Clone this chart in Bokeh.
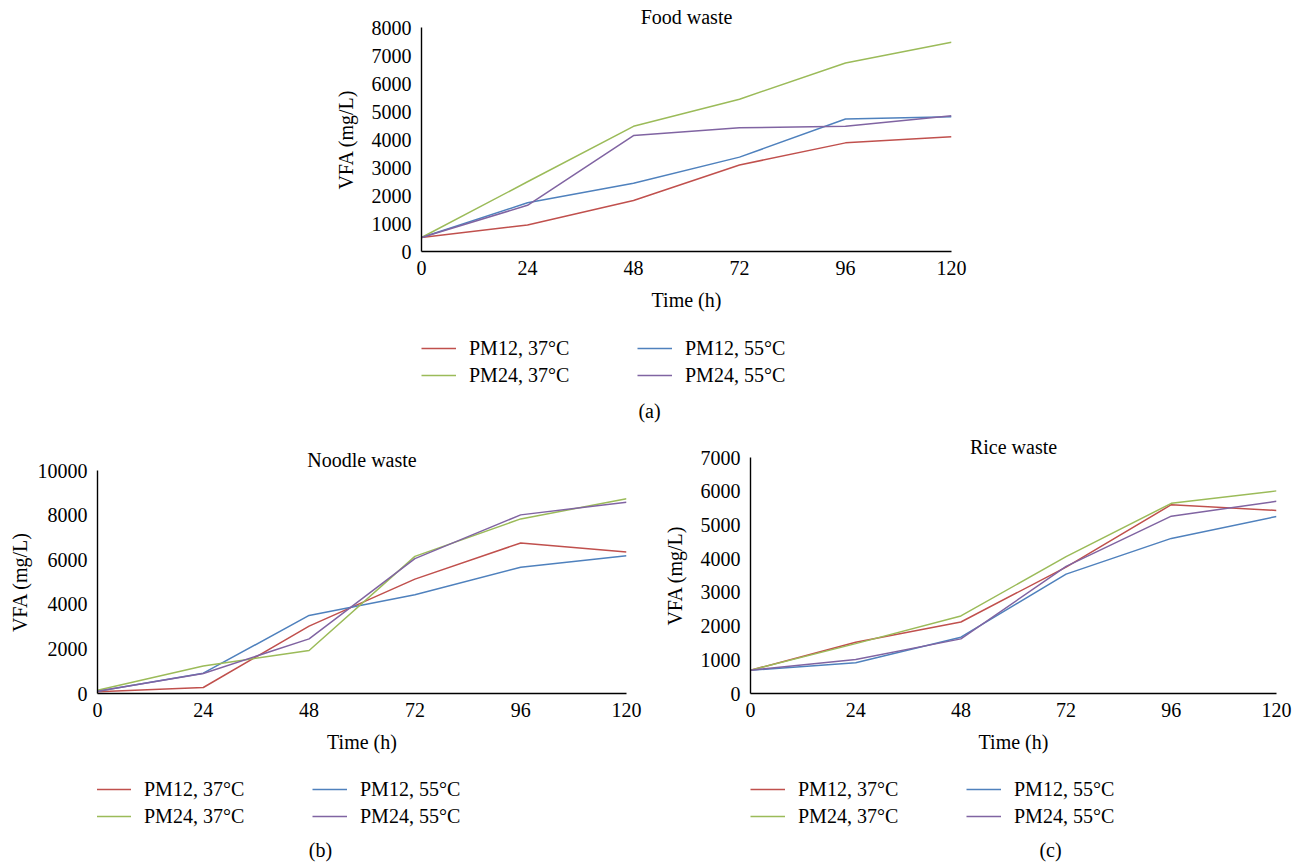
from bokeh.plotting import figure
from bokeh.models import Range1d, FixedTicker, Legend, LegendItem, Label, Title
from bokeh.layouts import column, row
from bokeh.embed import file_html
from bokeh.resources import INLINE

# ---------------- data ----------------
time_h = [0, 24, 48, 72, 96, 120]
series_labels = ["PM12, 37°C", "PM12, 55°C", "PM24, 37°C", "PM24, 55°C"]
series_colors = ["#C0504D", "#4F81BD", "#9BBB59", "#8064A2"]

food_pm12_37 = [500, 950, 1820, 3090, 3880, 4100]
food_pm12_55 = [500, 1740, 2440, 3370, 4730, 4810]
food_pm24_37 = [500, 2490, 4470, 5440, 6730, 7470]
food_pm24_55 = [500, 1650, 4140, 4420, 4470, 4850]

noodle_pm12_37 = [75, 270, 3020, 5130, 6750, 6350]
noodle_pm12_55 = [100, 910, 3500, 4430, 5660, 6180]
noodle_pm24_37 = [150, 1230, 1930, 6150, 7830, 8730]
noodle_pm24_55 = [100, 900, 2450, 6050, 8010, 8580]

rice_pm12_37 = [690, 1520, 2120, 3750, 5600, 5430]
rice_pm12_55 = [690, 910, 1670, 3540, 4600, 5250]
rice_pm24_37 = [690, 1480, 2300, 4060, 5640, 6010]
rice_pm24_55 = [690, 1010, 1620, 3770, 5260, 5700]

panel_titles = ["Food waste", "Noodle waste", "Rice waste"]
panel_captions = ["(a)", "(b)", "(c)"]
y_max = [8000, 10000, 7000]
y_step = [1000, 2000, 1000]

FONT = "Liberation Serif"
FS = "20px"


def make_chart(title, series, ymax, ystep, fw, fh, bl, br, bt, bb, ylab_standoff):
    p = figure(frame_width=fw, frame_height=fh,
               min_border_left=bl, min_border_right=br,
               min_border_top=bt, min_border_bottom=bb,
               x_range=Range1d(0, 120), y_range=Range1d(0, ymax),
               output_backend="svg", toolbar_location=None)
    p.title = Title(text=title, align="center", standoff=0,
                    text_font=FONT, text_font_size=FS, text_font_style="normal",
                    text_color="black")
    p.outline_line_color = None
    p.background_fill_color = "white"
    p.border_fill_color = "white"
    p.xgrid.visible = False
    p.ygrid.visible = False

    p.xaxis.ticker = FixedTicker(ticks=time_h)
    p.yaxis.ticker = FixedTicker(ticks=list(range(0, ymax + 1, ystep)))
    for ax in (p.xaxis[0], p.yaxis[0]):
        ax.major_tick_line_color = None
        ax.minor_tick_line_color = None
        ax.major_tick_out = 0
        ax.major_tick_in = 0
        ax.minor_tick_out = 0
        ax.axis_line_color = "black"
        ax.axis_line_width = 1.4
        ax.major_label_text_font = FONT
        ax.major_label_text_font_size = FS
        ax.major_label_text_color = "black"
        ax.axis_label_text_font = FONT
        ax.axis_label_text_font_size = FS
        ax.axis_label_text_font_style = "normal"
        ax.axis_label_text_color = "black"
    p.xaxis.axis_label = "Time (h)"
    p.yaxis.axis_label = "VFA (mg/L)"
    p.xaxis.major_label_standoff = 9
    p.xaxis.axis_label_standoff = 11
    p.yaxis.major_label_standoff = 10
    p.yaxis.axis_label_standoff = ylab_standoff

    for ys, col in zip(series, series_colors):
        p.line(time_h, ys, line_color=col, line_width=1.5)
    return p


def make_legend_fig(width, height, series, vx, vy, caption, cap_x, cap_y):
    # frame of this strip is aligned by the column layout with the chart above it
    q = figure(width=width, height=height, min_border=0,
               x_axis_type=None, y_axis_type=None,
               x_range=Range1d(0, 120), y_range=Range1d(0, 1),
               output_backend="svg", toolbar_location=None)
    q.outline_line_color = None
    q.background_fill_color = "white"
    q.border_fill_color = "white"
    q.xgrid.visible = False
    q.ygrid.visible = False
    rs = []
    for ys, c in zip(series, series_colors):
        r = q.line(time_h, ys, line_color=c, line_width=1.5)
        r.visible = False  # only used as legend key
        rs.append(r)
    # column 1 = 37°C series, column 2 = 55°C series
    order = [0, 2, 1, 3]
    items = [LegendItem(label=series_labels[i], renderers=[rs[i]]) for i in order]
    leg = Legend(items=items, location=(vx, vy), orientation="vertical",
                 ncols=2, glyph_width=35, glyph_height=20, label_standoff=13,
                 label_width=164, label_height=20, spacing=4, padding=0, margin=0,
                 border_line_color=None, background_fill_alpha=0,
                 label_text_font=FONT, label_text_font_size=FS,
                 label_text_color="black")
    q.add_layout(leg, "center")
    q.add_layout(Label(x=cap_x, y=cap_y, x_units="screen", y_units="screen", text=caption,
                       text_align="center", text_baseline="middle",
                       text_font=FONT, text_font_size=FS, text_color="black"))
    return q


food = [food_pm12_37, food_pm12_55, food_pm24_37, food_pm24_55]
noodle = [noodle_pm12_37, noodle_pm12_55, noodle_pm24_37, noodle_pm24_55]
rice = [rice_pm12_37, rice_pm12_55, rice_pm24_37, rice_pm24_55]

pA = make_chart(panel_titles[0], food, y_max[0], y_step[0],
                fw=530, fh=224, bl=421, br=349, bt=27, bb=80, ylab_standoff=12)
lA = make_legend_fig(1300, 99, food, vx=0, vy=43.5,
                     caption=panel_captions[0], cap_x=228, cap_y=20)

pB = make_chart(panel_titles[1], noodle, y_max[1], y_step[1],
                fw=529, fh=223, bl=97, br=24, bt=40, bb=80, ylab_standoff=4)
lB = make_legend_fig(650, 90, noodle, vx=-1, vy=35.5,
                     caption=panel_captions[1], cap_x=223, cap_y=14)

pC = make_chart(panel_titles[2], rice, y_max[2], y_step[2],
                fw=526, fh=236, bl=100, br=24, bt=27, bb=80, ylab_standoff=12)
lC = make_legend_fig(650, 90, rice, vx=0, vy=35.5,
                     caption=panel_captions[2], cap_x=300, cap_y=14)

layout = column(pA, lA, row(column(pB, lB), column(pC, lC)))
open("out.html", "w").write(file_html(layout, INLINE))
